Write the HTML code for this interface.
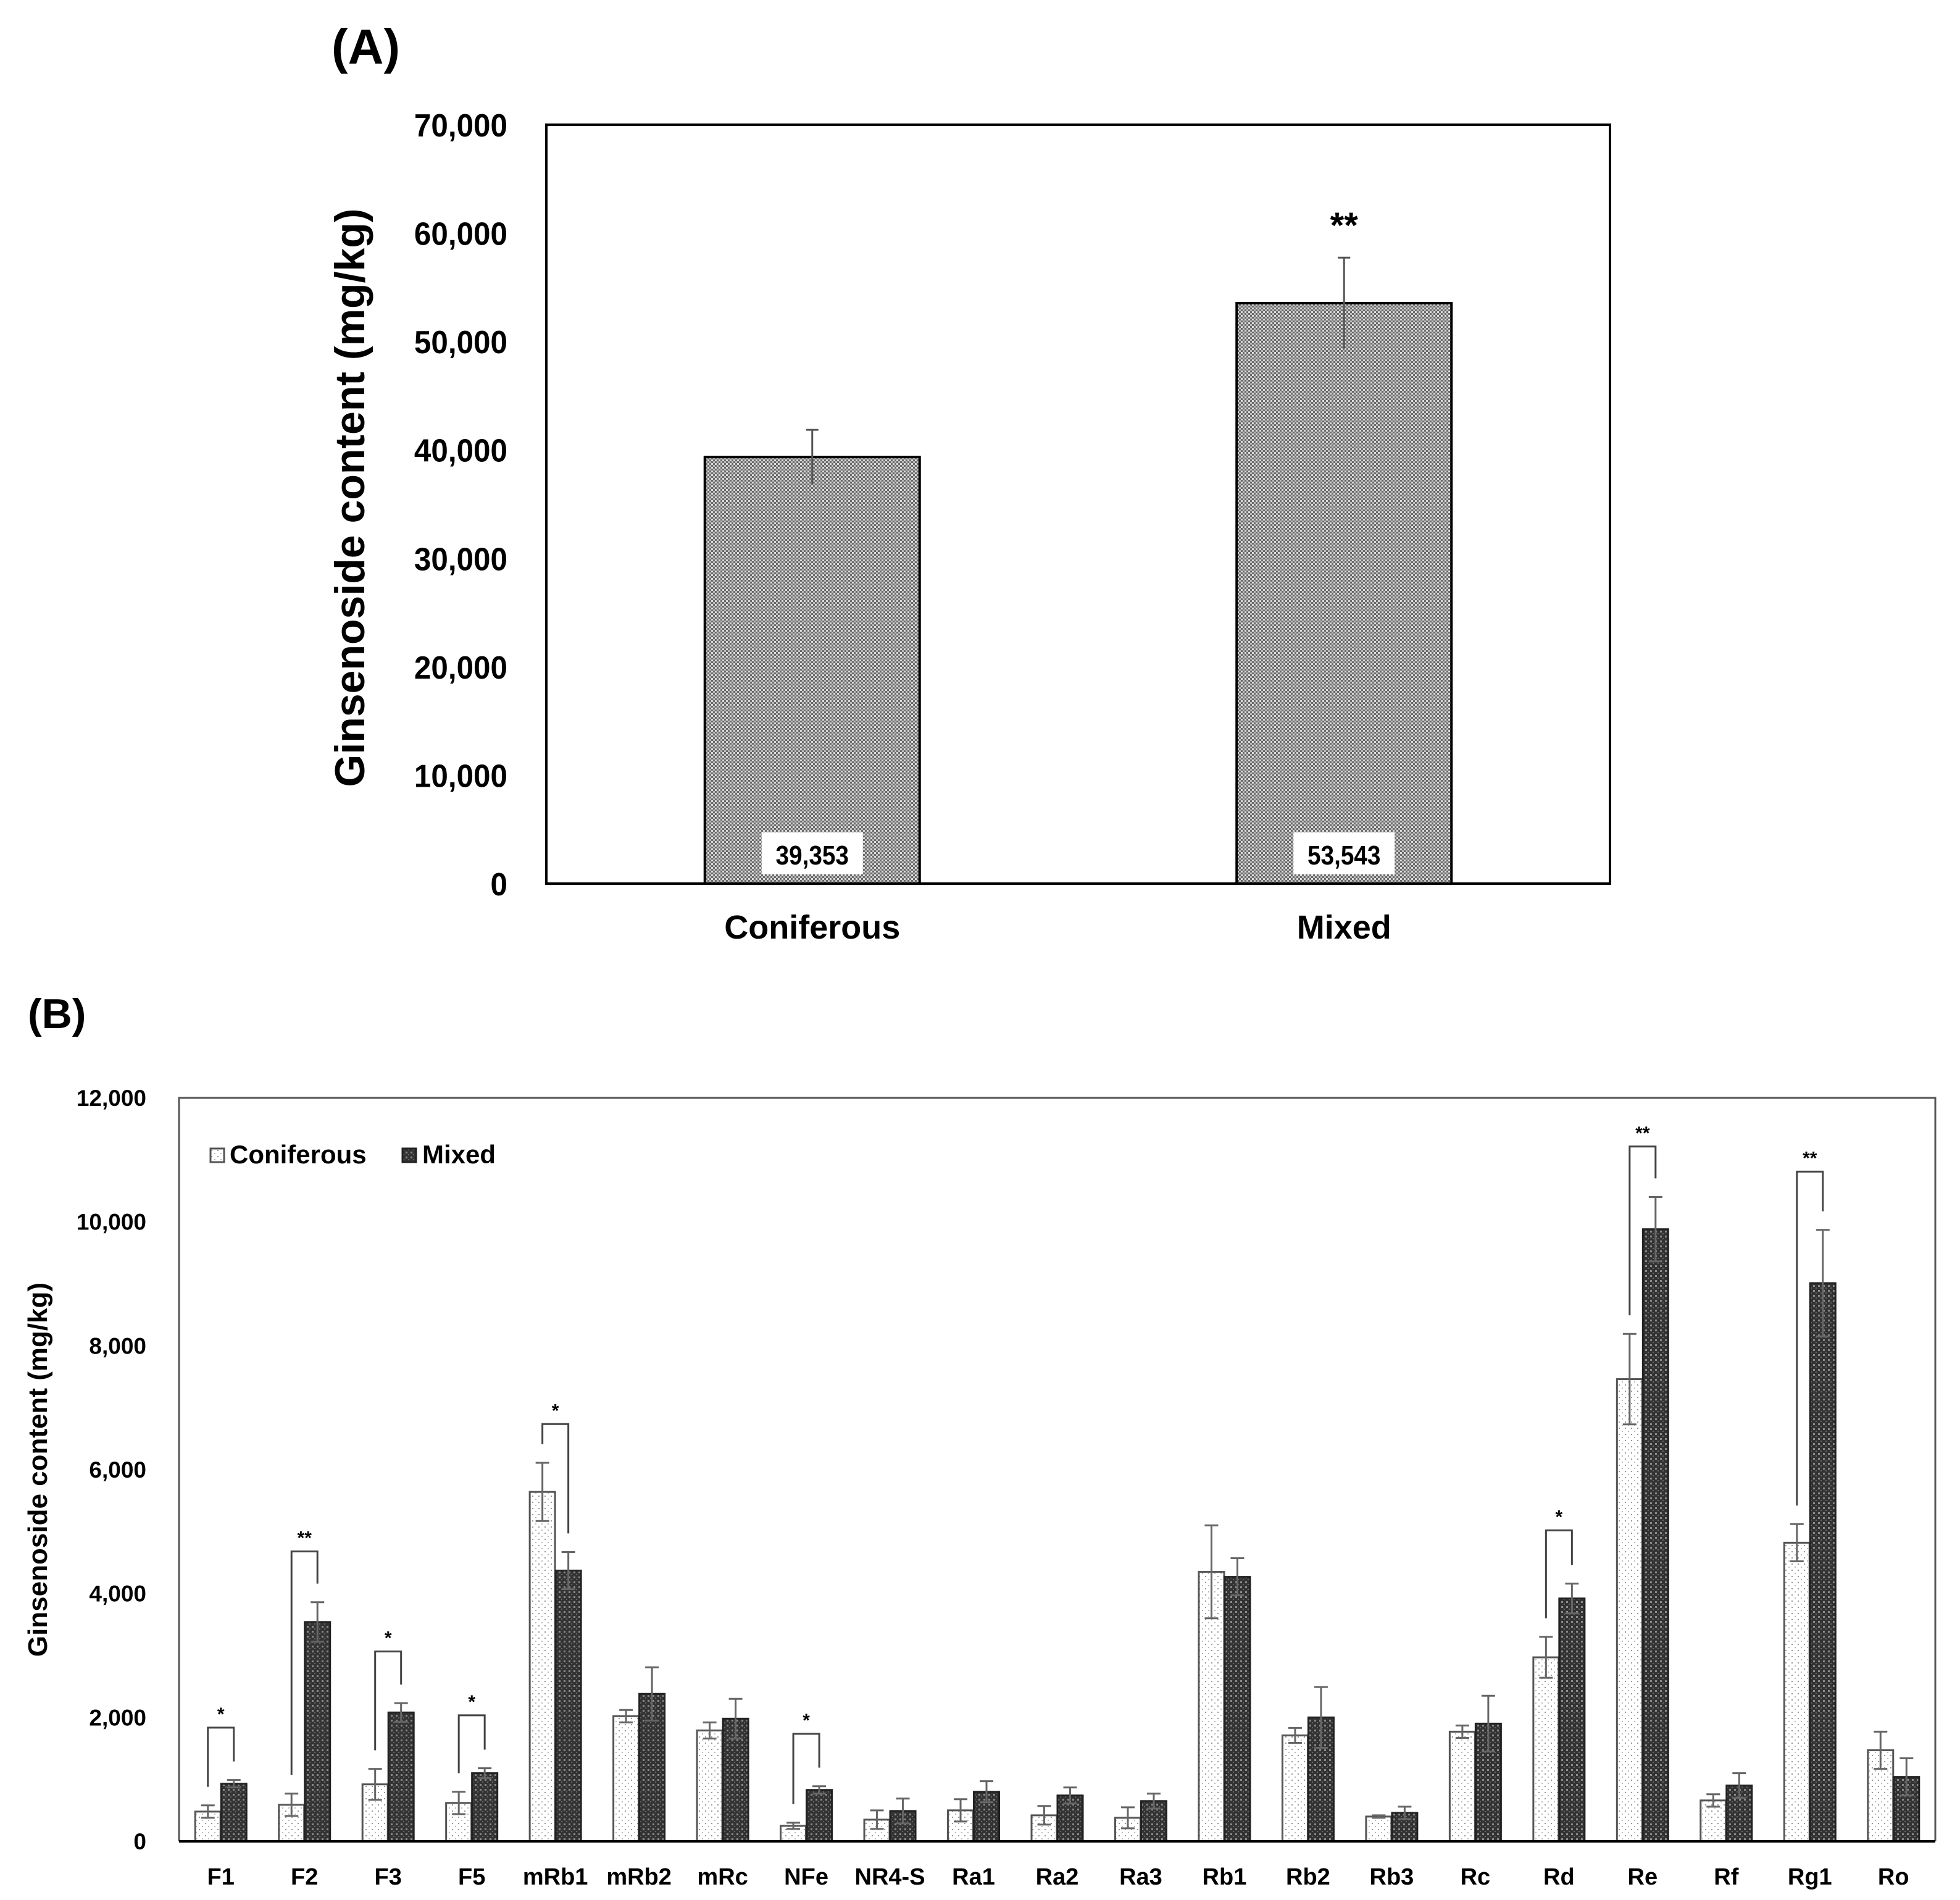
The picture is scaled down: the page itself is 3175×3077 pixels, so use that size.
<!DOCTYPE html>
<html><head><meta charset="utf-8">
<style>
html,body{margin:0;padding:0;background:#fff;}
svg{display:block;}
text{font-family:"Liberation Sans",Arial,sans-serif;font-weight:bold;fill:#000;}
</style></head>
<body>
<svg id="chart" width="3175" height="3077" viewBox="0 0 3175 3077" xmlns="http://www.w3.org/2000/svg">
<defs>
<pattern id="patA" width="6" height="6" patternUnits="userSpaceOnUse">
<rect width="6" height="6" fill="#6a6a6a"/><rect x="0" y="0" width="3" height="3" fill="#dcdcdc"/><rect x="3" y="3" width="3" height="3" fill="#bdbdbd"/>
</pattern>
<pattern id="patC" width="10" height="10" patternUnits="userSpaceOnUse">
<rect width="10" height="10" fill="#fff"/><rect x="2" y="2" width="2" height="2" fill="#999"/><rect x="7" y="7" width="2" height="2" fill="#bbb"/>
</pattern>
<pattern id="patM" width="8" height="8" patternUnits="userSpaceOnUse">
<rect width="8" height="8" fill="#333"/><rect x="1" y="1" width="3" height="3" fill="#8a8a8a"/><rect x="5" y="5" width="2" height="2" fill="#666"/>
</pattern>
</defs>
<g id="panelA"></g>
<g id="panelB"></g>
</svg>
<script>
const NS="http://www.w3.org/2000/svg";
// Panel A data
const catsA=["Coniferous","Mixed"];
const valsA=[39353,53543];
const errA=[2500,4200];
const labelsA=["39,353","53,543"];
const ticksA=[0,10000,20000,30000,40000,50000,60000,70000];
const sigA=["","**"];
// Panel B data
const catsB=["F1","F2","F3","F5","mRb1","mRb2","mRc","NFe","NR4-S","Ra1","Ra2","Ra3","Rb1","Rb2","Rb3","Rc","Rd","Re","Rf","Rg1","Ro"];
const conif=[480,590,920,620,5640,2020,1790,250,350,500,420,380,4350,1710,400,1770,2970,7460,660,4820,1470];
const mixed=[930,3540,2080,1100,4370,2380,1980,830,490,800,740,650,4270,2000,460,1900,3920,9880,900,9010,1040];
const errC=[100,180,250,180,470,100,130,50,150,180,150,170,750,120,20,100,330,730,100,300,300];
const errM=[60,320,150,80,300,430,320,60,200,170,130,120,300,490,100,450,240,520,200,860,300];
const sigB=["*","**","*","*","*","","","*","","","","","","","","","*","**","","**",""];
const bracketTop=[1835,4680,3065,2035,6735,0,0,1735,0,0,0,0,0,0,0,0,5020,11215,0,10810,0];
const ticksB=[0,2000,4000,6000,8000,10000,12000];

function el(tag,attrs,parent,txt){const e=document.createElementNS(NS,tag);for(const k in attrs)e.setAttribute(k,attrs[k]);if(txt!==undefined)e.textContent=txt;parent.appendChild(e);return e;}
const fmt=v=>v.toLocaleString("en-US");

// ---- Panel A ----
(function(){
const g=document.getElementById("panelA");
const L=885,R=2608,T=202,B=1431,max=70000;
const y=v=>B-(v/max)*(B-T);
const xc=i=>L+(R-L)*(i*2+1)/4;
let t=el("text",{x:537,y:103,"font-size":80},g,"(A)");

ticksA.forEach(v=>{const tt=el("text",{x:822,y:y(v)+19,"font-size":52,"text-anchor":"end",transform:`translate(822 0) scale(0.95 1) translate(-822 0)`},g,fmt(v));
});
const yt=el("text",{x:0,y:0,"font-size":68,"text-anchor":"middle",transform:"translate(590 806) rotate(-90)"},g,"Ginsenoside content (mg/kg)");

const bw=348;
catsA.forEach((c,i)=>{
 const x=xc(i);
 const r=el("rect",{x:x-bw/2,y:y(valsA[i]),width:bw,height:B-y(valsA[i]),fill:"url(#patA)",stroke:"#000","stroke-width":4},g);
 
 const ey1=y(valsA[i]+errA[i]),ey0=y(valsA[i]-errA[i]);
 const eb=el("path",{d:`M${x} ${ey0}V${ey1}M${x-10} ${ey1}H${x+10}`,stroke:"#555","stroke-width":3,fill:"none"},g);
 
 const lb=el("rect",{x:x-82,y:B-83,width:164,height:68,fill:"#fff"},g);
 
 const lt=el("text",{x:x,y:B-31,"font-size":44,"text-anchor":"middle",transform:`translate(${x} 0) scale(0.88 1) translate(${-x} 0)`},g,labelsA[i]);
 
 const ct=el("text",{x:x,y:1520,"font-size":54,"text-anchor":"middle"},g,c);
 
 if(sigA[i]){const s=el("text",{x:x,y:y(valsA[i]+errA[i])-32,"font-size":58,"text-anchor":"middle"},g,sigA[i]);
 }
});
const fr=el("rect",{x:L,y:T,width:R-L,height:B-T,fill:"none",stroke:"#000","stroke-width":4},g);

})();

// ---- Panel B ----
(function(){
const g=document.getElementById("panelB");
const L=290,R=3135,T=1778,B=2982,max=12000;
const y=v=>B-(v/max)*(B-T);
const step=(R-L)/catsB.length;
const xc=i=>L+step*(i+0.5);
let t=el("text",{x:45,y:1665,"font-size":68},g,"(B)");

ticksB.forEach(v=>{const tt=el("text",{x:237,y:y(v)+13,"font-size":37,"text-anchor":"end"},g,fmt(v));
});
const yt=el("text",{x:0,y:0,"font-size":44,"text-anchor":"middle",transform:"translate(76 2380) rotate(-90)"},g,"Ginsenoside content (mg/kg)");

const bw=41,off=21;
catsB.forEach((c,i)=>{
 const x=xc(i);
 [[conif,errC,"url(#patC)",-off,"coniferous"],[mixed,errM,"url(#patM)",off,"mixed"]].forEach(([vals,errs,fill,o,nm])=>{
  const bx=x+o,v=vals[i];
  const r=el("rect",{x:bx-bw/2,y:y(v),width:bw,height:B-y(v),fill:fill,stroke:nm==="coniferous"?"#555":"#222","stroke-width":3},g);
  
  const e1=y(v+errs[i]),e0=y(Math.max(0,v-errs[i]));
  const eb=el("path",{d:`M${bx} ${e0}V${e1}M${bx-11} ${e1}H${bx+11}M${bx-11} ${e0}H${bx+11}`,stroke:"#666","stroke-width":3,fill:"none"},g);
  
 });
 const ct=el("text",{x:x,y:3052,"font-size":38,"text-anchor":"middle"},g,c);
 
 if(sigB[i]){
  const xl=x-off,xr=x+off,top=y(bracketTop[i]);
  const lb=y(conif[i]+errC[i]+300),rb=y(mixed[i]+errM[i]+300);
  const br=el("path",{d:`M${xl} ${lb}V${top}H${xr}V${rb}`,stroke:"#444","stroke-width":3,fill:"none"},g);
  
  const s=el("text",{x:x,y:top-12,"font-size":30,"text-anchor":"middle"},g,sigB[i]);
  
 }
});
const fr=el("path",{d:`M${L} ${B}V${T}H${R}V${B}`,fill:"none",stroke:"#555","stroke-width":3},g);

const ax=el("line",{x1:L,y1:B,x2:R,y2:B,stroke:"#000","stroke-width":4},g);

// legend
const lg=el("g",{},g);

const s1=el("rect",{x:341,y:1860,width:22,height:22,fill:"url(#patC)",stroke:"#555","stroke-width":3},lg);

const t1=el("text",{x:372,y:1884,"font-size":42},lg,"Coniferous");

const s2=el("rect",{x:652,y:1860,width:22,height:22,fill:"url(#patM)",stroke:"#222","stroke-width":3},lg);

const t2=el("text",{x:684,y:1884,"font-size":42},lg,"Mixed");

})();
</script>
</body></html>
